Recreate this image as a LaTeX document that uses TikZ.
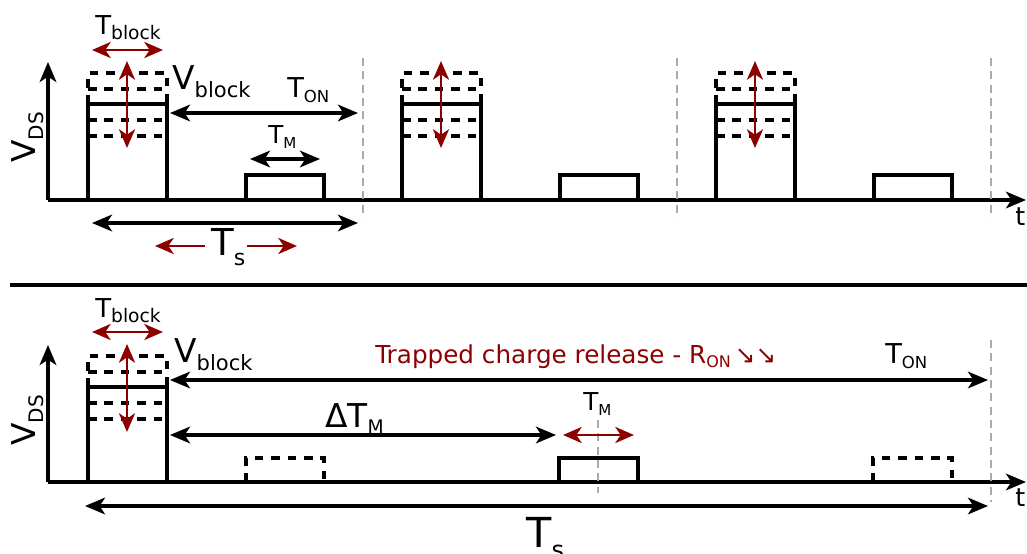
\documentclass[tikz,border=0pt]{standalone}
\usepackage{fontspec}
\setmainfont{DejaVu Sans}
\usetikzlibrary{arrows.meta}
\definecolor{dred}{RGB}{140,0,0}
\definecolor{lgray}{RGB}{170,170,170}
\newcommand{\lbl}[5]{{\fontsize{#2}{#2}\selectfont #1}\raisebox{-#5}{\fontsize{#4}{#4}\selectfont #3}}
\tikzset{
  ln/.style={line width=2.3pt, line join=miter},
  dsh/.style={line width=2.3pt, dash pattern=on 6.5pt off 5.8pt},
  gdsh/.style={line width=2pt, lgray, dash pattern=on 6pt off 4pt},
  arr/.style={line width=2.3pt, {Stealth[length=15pt,width=12.5pt,inset=4pt]}-{Stealth[length=15pt,width=12.5pt,inset=4pt]}},
  rarr/.style={line width=2.2pt, dred, {Stealth[length=14pt,width=12pt,inset=4pt]}-{Stealth[length=14pt,width=12pt,inset=4pt]}},
  rarr1/.style={line width=2.2pt, dred, -{Stealth[length=14pt,width=12pt,inset=4pt]}},
  axis/.style={line width=2.3pt, -{Stealth[length=15pt,width=12.5pt,inset=4pt]}},
  txt/.style={inner sep=0pt, anchor=base west},
}
\begin{document}
\begin{tikzpicture}[x=0.75pt,y=-0.75pt]
\useasboundingbox (0,0) rectangle (1027,553);

%================ TOP PANEL =================
\coordinate (o1) at (48,200);
\draw[axis] (o1) -- (1026,200);
\draw[axis] (o1) -- (48,62);
\foreach \dx in {0,314,628}{
  \begin{scope}[xshift=\dx*0.75pt]
  \draw[ln] (88,200) -- (88,104) -- (167,104) -- (167,200);
  \draw[dsh] (88,104) -- (88,73) -- (167,73) -- (167,104);
  \draw[dsh] (88,89) -- (167,89);
  \draw[dsh] (88,120) -- (167,120);
  \draw[dsh] (88,136) -- (167,136);
  \draw[rarr] (127,61) -- (127,148);
  \draw[ln] (246,200) -- (246,175) -- (324,175) -- (324,200);
  \draw[gdsh] (363,58) -- (363,218);
  \end{scope}
}
% annotations
\coordinate (tb1a) at (92,50);  \coordinate (tb1b) at (163,50);
\draw[rarr] (tb1a) -- (tb1b);
\coordinate (ton1a) at (170,113); \coordinate (ton1b) at (358,113);
\draw[arr] (ton1a) -- (ton1b);
\coordinate (tm1a) at (250,159); \coordinate (tm1b) at (320,159);
\draw[arr] (tm1a) -- (tm1b);
\coordinate (ts1a) at (92,223); \coordinate (ts1b) at (358,223);
\draw[arr] (ts1a) -- (ts1b);
\coordinate (rl0) at (205,246); \coordinate (rl1) at (155,246);
\draw[rarr1] (rl0) -- (rl1);
\coordinate (rr0) at (247,246); \coordinate (rr1) at (297,246);
\draw[rarr1] (rr0) -- (rr1);

\node[txt] (tblock1) at (95,34) {\lbl{T}{19.5pt}{block}{14pt}{3.75pt}};
\node[txt] (vblock1) at (172,89) {\lbl{V}{24.6pt}{block}{15.8pt}{6pt}};
\node[txt] (ton1) at (287,97) {\lbl{T}{20.5pt}{ON}{12.4pt}{3.75pt}};
\node[txt] (tm1) at (268,143) {\lbl{T}{18.5pt}{M}{11.3pt}{3.75pt}};
\node[txt] (ts1) at (211,255) {\lbl{T}{27.8pt}{s}{16.5pt}{7.5pt}};
\node[txt] (t1) at (1015,225) {\fontsize{19pt}{19pt}\selectfont t};
\node[txt, rotate=90] (vds1) at (35,163) {\lbl{V}{24.6pt}{DS}{15pt}{6pt}};

% separator
\coordinate (sepa) at (10,285); \coordinate (sepb) at (1027,285);
\draw[line width=2.3pt] (sepa) -- (sepb);

%================ BOTTOM PANEL =================
\coordinate (o2) at (48,482);
\draw[axis] (o2) -- (1026,482);
\draw[axis] (o2) -- (48,345);
\draw[ln] (88,482) -- (88,387) -- (167,387) -- (167,482);
\draw[dsh] (88,387) -- (88,356) -- (167,356) -- (167,387);
\draw[dsh] (88,372) -- (167,372);
\draw[dsh] (88,403) -- (167,403);
\draw[dsh] (88,419) -- (167,419);
\draw[rarr] (127,344) -- (127,432);
\draw[dsh] (246,482) -- (246,458) -- (324,458) -- (324,482);
\draw[ln] (559,482) -- (559,458) -- (638,458) -- (638,482);
\draw[dsh] (873,482) -- (873,458) -- (952,458) -- (952,482);
\draw[gdsh] (598,420) -- (598,493);
\draw[gdsh] (991,340) -- (991,502);

\coordinate (tb2a) at (92,332);  \coordinate (tb2b) at (163,332);
\draw[rarr] (tb2a) -- (tb2b);
\coordinate (ton2a) at (170,380); \coordinate (ton2b) at (988,380);
\draw[arr] (ton2a) -- (ton2b);
\coordinate (dtm2a) at (170,435); \coordinate (dtm2b) at (556,435);
\draw[arr] (dtm2a) -- (dtm2b);
\coordinate (tm2a) at (563,435); \coordinate (tm2b) at (634,435);
\draw[rarr] (tm2a) -- (tm2b);
\coordinate (ts2a) at (85,506); \coordinate (ts2b) at (988,506);
\draw[arr] (ts2a) -- (ts2b);

\node[txt] (tblock2) at (95,317) {\lbl{T}{19.5pt}{block}{14pt}{3.75pt}};
\node[txt] (vblock2) at (174,362) {\lbl{V}{24.6pt}{block}{15.8pt}{6pt}};
\node[txt, text=dred] (trap) at (375,363) {\fontsize{18.5pt}{18.5pt}\selectfont Trapped charge release - R\raisebox{-3pt}{\fontsize{12pt}{12pt}\selectfont ON}\,↘↘};
\node[txt] (ton2) at (885,363) {\lbl{T}{20.5pt}{ON}{12.4pt}{3.75pt}};
\node[txt] (dtm2) at (325,427) {\lbl{ΔT}{24.6pt}{M}{14pt}{5pt}};
\node[txt] (tm2) at (583,410) {\lbl{T}{18.5pt}{M}{11.3pt}{3.75pt}};
\node[txt] (ts2) at (526,547) {\lbl{T}{31pt}{s}{18pt}{8.5pt}};
\node[txt] (t2) at (1015,506) {\fontsize{19pt}{19pt}\selectfont t};
\node[txt, rotate=90] (vds2) at (35,446) {\lbl{V}{24.6pt}{DS}{15pt}{6pt}};
\end{tikzpicture}
\end{document}
